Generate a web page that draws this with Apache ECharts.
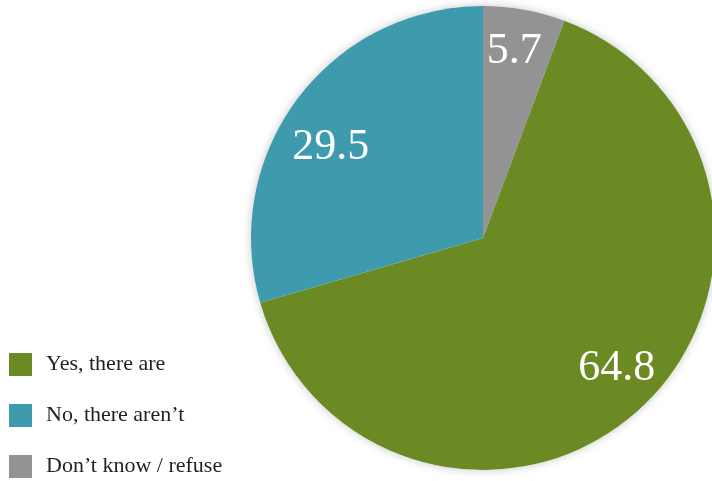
<!DOCTYPE html>
<html>
<head>
<meta charset="utf-8">
<style>
  html, body { margin: 0; padding: 0; background: #ffffff; }
  #chart { width: 712px; height: 481px; }
</style>
<script src="https://cdn.jsdelivr.net/npm/echarts@6/dist/echarts.min.js"></script>
</head>
<body>
<div id="chart"></div>
<script>
// Survey answers (percent)
const legendOrder = ['Yes, there are', 'No, there aren\u2019t', 'Don\u2019t know / refuse'];
// Slice order clockwise from 12 o'clock
const sliceNames = ['Don\u2019t know / refuse', 'Yes, there are', 'No, there aren\u2019t'];
const sliceValues = [5.7, 64.8, 29.5];
const sliceColors = ['#939396', '#6b8a23', '#3e9aad'];

// Label placement per slice: distance from centre (fraction of radius) and angle nudge (deg)
const labelRadius = [0.83, 0.795, 0.77];
const labelAngleNudge = [-0.9, -3.6, -5.4];

const CX = 483, CY = 238, R = 232;
const serif = '"Liberation Serif", "DejaVu Serif", serif';

const total = sliceValues.reduce((a, b) => a + b, 0);
const midAngles = [];
let acc = 0;
sliceValues.forEach(v => { midAngles.push((acc + v / 2) / total * 360); acc += v; });

const chart = echarts.init(document.getElementById('chart'), null, { renderer: 'canvas' });

chart.setOption({
  animation: false,
  backgroundColor: '#ffffff',
  legend: {
    data: legendOrder,
    orient: 'vertical',
    left: 9,
    top: 353,
    height: 140,
    padding: 0,
    itemWidth: 23,
    itemHeight: 23,
    itemGap: 28,
    icon: 'rect',
    selectedMode: false,
    textStyle: { fontFamily: serif, fontSize: 22, color: '#231f20', padding: [0, 0, 0, 9] }
  },
  series: [
    {
      // soft halo under the pie
      type: 'pie',
      silent: true,
      center: [CX, CY],
      radius: R,
      z: 1,
      label: { show: false },
      labelLine: { show: false },
      itemStyle: { color: '#ffffff', shadowBlur: 10, shadowColor: 'rgba(0,0,0,0.22)' },
      data: [{ value: 1, name: '' }],
      legendHoverLink: false
    },
    {
      type: 'pie',
      center: [CX, CY],
      radius: R,
      startAngle: 90,
      clockwise: true,
      z: 2,
      itemStyle: { borderWidth: 0 },
      label: {
        show: true,
        position: 'inside',
        color: '#ffffff',
        fontFamily: serif,
        fontSize: 44,
        formatter: p => p.value.toFixed(1)
      },
      labelLine: { show: false },
      labelLayout: function (params) {
        const i = params.dataIndex;
        const a = (midAngles[i] + labelAngleNudge[i]) * Math.PI / 180;
        const r = R * labelRadius[i];
        return {
          x: CX + r * Math.sin(a),
          y: CY - r * Math.cos(a) + 3,
          align: 'center',
          verticalAlign: 'middle'
        };
      },
      data: sliceNames.map((n, i) => ({
        name: n,
        value: sliceValues[i],
        itemStyle: { color: sliceColors[i] }
      }))
    }
  ]
});
</script>
</body>
</html>
